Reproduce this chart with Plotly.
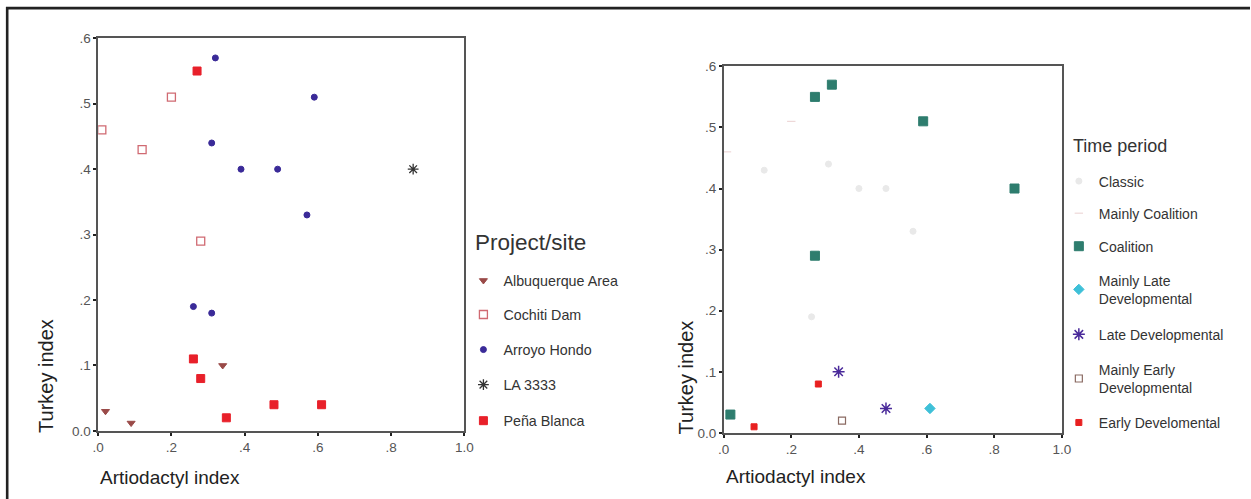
import plotly.graph_objects as go

# ---------------- data: left panel (Project/site) ----------------
alb_x = [0.02, 0.09, 0.34]
alb_y = [0.03, 0.012, 0.10]
coch_x = [0.01, 0.12, 0.20, 0.28]
coch_y = [0.46, 0.43, 0.51, 0.29]
arroyo_x = [0.32, 0.59, 0.31, 0.39, 0.49, 0.57, 0.26, 0.31]
arroyo_y = [0.57, 0.51, 0.44, 0.40, 0.40, 0.33, 0.19, 0.18]
la_x = [0.86]
la_y = [0.40]
pena_x = [0.27, 0.26, 0.28, 0.35, 0.48, 0.61]
pena_y = [0.55, 0.11, 0.08, 0.02, 0.04, 0.04]

# ---------------- data: right panel (Time period) ----------------
classic_x = [0.12, 0.31, 0.40, 0.48, 0.56, 0.26]
classic_y = [0.43, 0.44, 0.40, 0.40, 0.33, 0.19]
mcoal_x = [0.01, 0.20]
mcoal_y = [0.46, 0.51]
coal_x = [0.27, 0.32, 0.59, 0.86, 0.27, 0.02]
coal_y = [0.55, 0.57, 0.51, 0.40, 0.29, 0.03]
mlate_x = [0.61]
mlate_y = [0.04]
late_x = [0.34, 0.48]
late_y = [0.10, 0.04]
mearly_x = [0.35]
mearly_y = [0.02]
early_x = [0.28, 0.09]
early_y = [0.08, 0.01]

x_ticks = [0, 0.2, 0.4, 0.6, 0.8, 1.0]
x_labels = [".0", ".2", ".4", ".6", ".8", "1.0"]
y_ticks = [0, 0.1, 0.2, 0.3, 0.4, 0.5, 0.6]
y_labels = ["0.0", ".1", ".2", ".3", ".4", ".5", ".6"]

# target picture is 1251x499; the page adds an 8px body margin around the figure
PW, PH = 1251, 499
OFF = 8
W, H = PW + OFF, PH + OFF
SX, SY = (PW + 2 * OFF) / PW, (PH + 2 * OFF) / PH
FONT = "Liberation Sans, Arial, sans-serif"


def px(t):
    return (t * SX - OFF) / W


def py(t):
    return 1 - (t * SY - OFF) / H


def fx(t):
    return t * SX - OFF


fig = go.Figure()
legends = {}
counter = [0]


def add(x, y, name, symbol, color, size, xa, ya, text_x, ly, fsize, lw=1):
    counter[0] += 1
    key = "legend" if counter[0] == 1 else f"legend{counter[0]}"
    fig.add_trace(go.Scatter(
        x=x, y=y, mode="markers", name=name,
        marker=dict(symbol=symbol, color=color, size=size,
                    line=dict(color=color, width=lw)),
        xaxis=xa, yaxis=ya, legend=key,
    ))
    legends[key] = dict(
        x=(fx(text_x) - 38.5) / W, y=py(ly), xanchor="left", yanchor="middle",
        font=dict(size=fsize, color="#333333", family=FONT),
        itemwidth=30, bgcolor="rgba(0,0,0,0)", borderwidth=0,
    )


TX1, TX2 = 503, 1098
F1, F2 = 14.3, 14.0
add(alb_x, alb_y, "Albuquerque Area", "triangle-down", "#9a4a48", 7, "x", "y", TX1, 281, F1)
add(coch_x, coch_y, "Cochiti Dam", "square-open", "#d06a72", 8, "x", "y", TX1, 315, F1, 1.3)
add(arroyo_x, arroyo_y, "Arroyo Hondo", "circle", "#3a2a98", 6, "x", "y", TX1, 350, F1)
add(la_x, la_y, "LA 3333", "asterisk-open", "#333333", 9, "x", "y", TX1, 385, F1, 1.3)
add(pena_x, pena_y, "Peña Blanca", "square", "#e8202a", 8, "x", "y", TX1, 421, F1)

add(classic_x, classic_y, "Classic", "circle", "#e9e9e9", 6, "x2", "y2", TX2, 182, F2)
add(mcoal_x, mcoal_y, "Mainly Coalition", "line-ew-open", "#ead0d0", 6, "x2", "y2", TX2, 214, F2)
add(coal_x, coal_y, "Coalition", "square", "#2e7d6e", 9, "x2", "y2", TX2, 247, F2)
add(mlate_x, mlate_y, "Mainly Late<br>Developmental", "diamond", "#3ec0d8", 8, "x2", "y2", TX2, 290, F2)
add(late_x, late_y, "Late Developmental", "asterisk-open", "#4a2a9a", 10, "x2", "y2", TX2, 335, F2, 1.5)
add(mearly_x, mearly_y, "Mainly Early<br>Developmental", "square-open", "#8a6a62", 7, "x2", "y2", TX2, 379, F2, 1.2)
add(early_x, early_y, "Early Develomental", "square", "#e82020", 6, "x2", "y2", TX2, 423, F2)

ax_common = dict(
    showline=True, linecolor="#555555", linewidth=1.5, mirror=True,
    ticks="outside", ticklen=3, tickwidth=2, tickcolor="#222222",
    showgrid=False, zeroline=False,
    tickfont=dict(family=FONT, size=13.5, color="#555555"),
)


def ann(text, x, y, size, angle=0, xanchor="center", color="#222222"):
    return dict(text=text, xref="paper", yref="paper", x=px(x), y=py(y),
                textangle=angle, showarrow=False, xanchor=xanchor, yanchor="middle",
                font=dict(size=size, color=color, family=FONT))


fig.update_layout(
    width=W, height=H,
    margin=dict(l=0, r=0, t=0, b=0),
    paper_bgcolor="white", plot_bgcolor="white",
    font=dict(family=FONT, color="#333333"),
    showlegend=True,
    xaxis=dict(domain=[px(100), px(466)], range=[0, 1.0], tickvals=x_ticks, ticktext=x_labels, anchor="y", **ax_common),
    yaxis=dict(domain=[py(431), py(39)], range=[0, 0.6], tickvals=y_ticks, ticktext=y_labels, anchor="x", **ax_common),
    xaxis2=dict(domain=[px(725), px(1063)], range=[0, 1.0], tickvals=x_ticks, ticktext=x_labels, anchor="y2", **ax_common),
    yaxis2=dict(domain=[py(433), py(67)], range=[0, 0.6], tickvals=y_ticks, ticktext=y_labels, anchor="x2", **ax_common),
    shapes=[dict(type="path", xref="paper", yref="paper",
                 path=f"M {1.2 / W},0 L {1.2 / W},{1 - 1.2 / H} L 1,{1 - 1.2 / H}",
                 line=dict(color="#222222", width=2.6))],
    annotations=[
        ann("Turkey index", 48, 376, 20, angle=-90),
        ann("Artiodactyl index", 100, 478, 19, xanchor="left"),
        ann("Turkey index", 687, 378, 20, angle=-90),
        ann("Artiodactyl index", 725, 477, 19, xanchor="left"),
        ann("Project/site", 475, 243, 22.5, xanchor="left", color="#333333"),
        ann("Time period", 1072, 147, 18, xanchor="left", color="#333333"),
    ],
    **legends,
)

fig.write_html("out.html")
